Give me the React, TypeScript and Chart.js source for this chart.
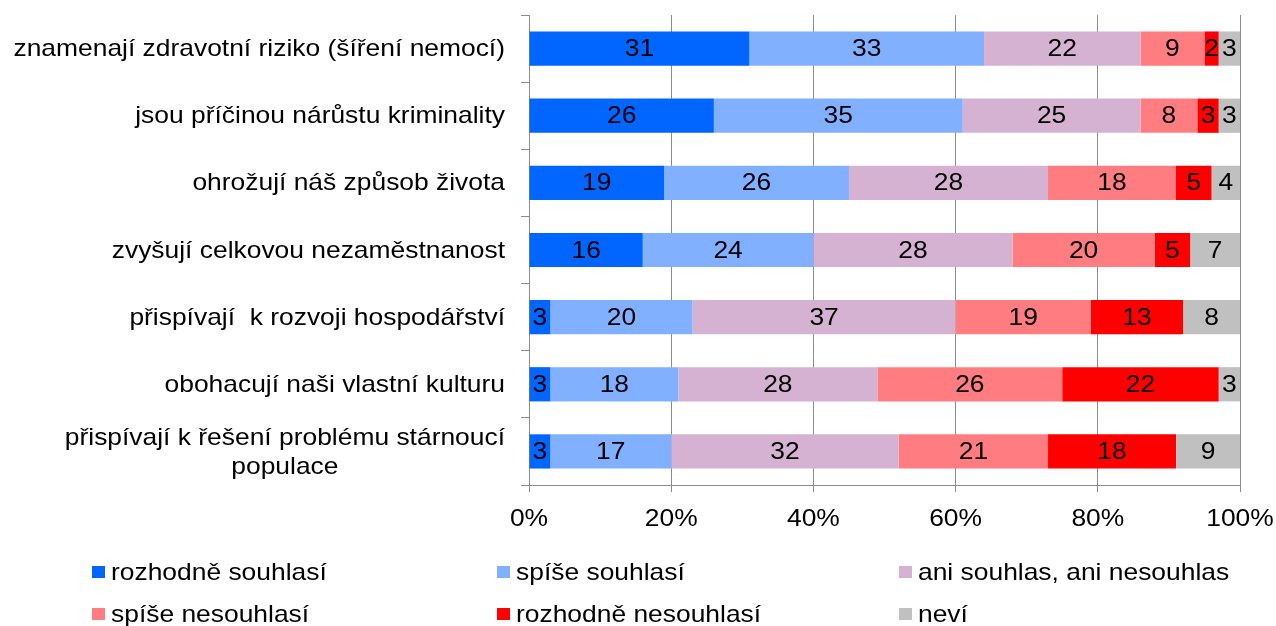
import React, { useEffect, useRef } from "react";
import { Chart, registerables } from "chart.js";

Chart.register(...registerables);

const categories: string[][] = [
  ["znamenají zdravotní riziko (šíření nemocí)"],
  ["jsou příčinou nárůstu kriminality"],
  ["ohrožují náš způsob života"],
  ["zvyšují celkovou nezaměstnanost"],
  ["přispívají  k rozvoji hospodářství"],
  ["obohacují naši vlastní kulturu"],
  ["přispívají k řešení problému stárnoucí", "populace"],
];

const seriesNames = [
  "rozhodně souhlasí",
  "spíše souhlasí",
  "ani souhlas, ani nesouhlas",
  "spíše nesouhlasí",
  "rozhodně nesouhlasí",
  "neví",
];

const seriesColors = ["#0066FF", "#80B0FF", "#D5B2D2", "#FF7C80", "#FF0000", "#C0C0C0"];

const rozhodneSouhlasi = [31, 26, 19, 16, 3, 3, 3];
const spiseSouhlasi = [33, 35, 26, 24, 20, 18, 17];
const aniSouhlasAniNesouhlas = [22, 25, 28, 28, 37, 28, 32];
const spiseNesouhlasi = [9, 8, 18, 20, 19, 26, 21];
const rozhodneNesouhlasi = [2, 3, 5, 5, 13, 22, 18];
const nevi = [3, 3, 4, 7, 8, 3, 9];

const xTickValues = [0, 20, 40, 60, 80, 100];

const FONT = "'Liberation Sans', Arial, sans-serif";
const FONT_SIZE = 24;
const SX = 1.1;

const seriesValues = [
  rozhodneSouhlasi,
  spiseSouhlasi,
  aniSouhlasAniNesouhlas,
  spiseNesouhlasi,
  rozhodneNesouhlasi,
  nevi,
];

function drawText(ctx: CanvasRenderingContext2D, text: string, x: number, y: number, align: CanvasTextAlign) {
  ctx.save();
  ctx.translate(x, y);
  ctx.scale(SX, 1);
  ctx.textAlign = align;
  ctx.textBaseline = "middle";
  ctx.fillText(text, 0, 0);
  ctx.restore();
}

const customDraw = {
  id: "customDraw",
  afterDatasetsDraw(chart: any) {
    const ctx = chart.ctx;
    ctx.save();
    ctx.font = `${FONT_SIZE}px ${FONT}`;
    ctx.fillStyle = "#000";
    chart.data.datasets.forEach((ds: any, di: number) => {
      const meta = chart.getDatasetMeta(di);
      meta.data.forEach((el: any, i: number) => {
        const cx = (el.x + el.base) / 2;
        drawText(ctx, String(ds.data[i]), cx, el.y + 1, "center");
      });
    });
    ctx.restore();
  },
  afterDraw(chart: any) {
    const ctx = chart.ctx;
    const yScale = chart.scales.y;
    const xScale = chart.scales.x;
    ctx.save();
    ctx.font = `${FONT_SIZE}px ${FONT}`;
    ctx.fillStyle = "#000";
    // category labels
    const rightX = 505;
    const lineH = 29;
    categories.forEach((lines, i) => {
      const cy = yScale.getPixelForValue(i);
      const widths = lines.map((l) => ctx.measureText(l).width * SX);
      const maxW = Math.max(...widths);
      const centerX = rightX - maxW / 2;
      lines.forEach((l, li) => {
        const y = cy + (li - (lines.length - 1) / 2) * lineH + 1;
        drawText(ctx, l, centerX, y, "center");
      });
    });
    // x tick labels
    xTickValues.forEach((v) => {
      drawText(ctx, `${v}%`, xScale.getPixelForValue(v), 519, "center");
    });
    // legend
    const cols = [92, 497, 899];
    const rows = [572, 614];
    seriesNames.forEach((name, i) => {
      const c = i % 3;
      const r = Math.floor(i / 3);
      const x = cols[c];
      const y = rows[r];
      ctx.fillStyle = seriesColors[i];
      ctx.fillRect(x, y - 6, 13, 12);
      ctx.fillStyle = "#000";
      drawText(ctx, name, x + 19, y + 1, "left");
    });
    ctx.restore();
  },
};

export default function App() {
  const ref = useRef<HTMLCanvasElement | null>(null);
  useEffect(() => {
    if (!ref.current) return;
    const chart = new Chart(ref.current, {
      type: "bar",
      data: {
        labels: categories.map((c) => c.join(" ")),
        datasets: seriesNames.map((name, i) => ({
          label: name,
          data: seriesValues[i],
          backgroundColor: seriesColors[i],
          borderWidth: 0,
          barPercentage: 0.51,
          categoryPercentage: 1,
        })),
      },
      options: {
        indexAxis: "y",
        animation: false,
        responsive: true,
        maintainAspectRatio: false,
        layout: { padding: { top: 15, right: 36, left: 0, bottom: 0 } },
        plugins: {
          legend: { display: false },
          tooltip: { enabled: false },
        },
        scales: {
          x: {
            stacked: true,
            min: 0,
            max: 100,
            afterBuildTicks: (scale: any) => {
              scale.ticks = xTickValues.map((v) => ({ value: v }));
            },
            afterFit: (scale: any) => {
              scale.height = 141;
            },
            ticks: { display: false },
            grid: {
              color: "#8C8C8C",
              lineWidth: 1,
              tickLength: 7,
              drawTicks: true,
            },
            border: { display: true, color: "#8C8C8C", width: 1 },
          },
          y: {
            stacked: true,
            afterFit: (scale: any) => {
              scale.width = 529;
            },
            ticks: { display: false },
            grid: {
              offset: true,
              drawOnChartArea: false,
              drawTicks: true,
              tickLength: 8,
              color: "#8C8C8C",
            },
            border: { display: true, color: "#8C8C8C", width: 1 },
          },
        },
      },
      plugins: [customDraw],
    });
    return () => chart.destroy();
  }, []);
  return (
    <div style={{ position: "fixed", left: 0, top: 0, width: 1276, height: 626, background: "#fff" }}>
      <canvas ref={ref} />
    </div>
  );
}
